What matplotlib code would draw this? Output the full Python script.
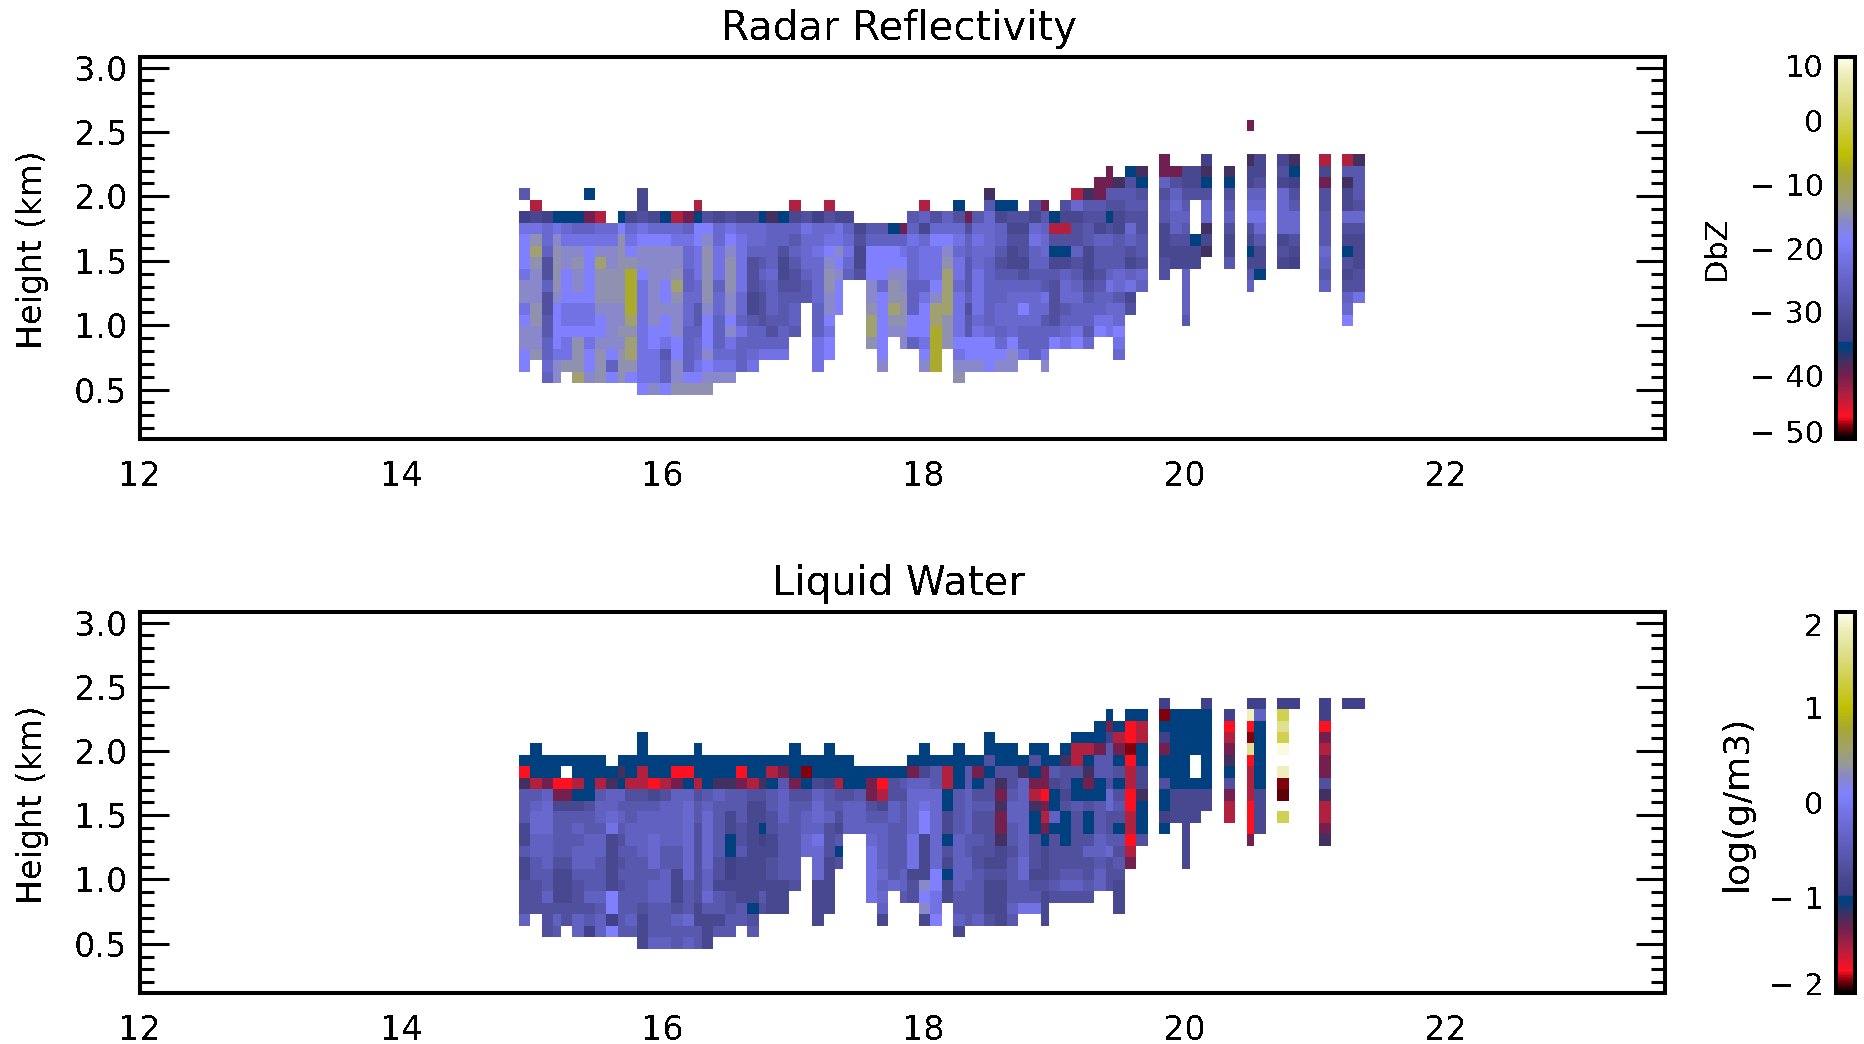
import numpy as np
import matplotlib
matplotlib.use("Agg")
import matplotlib.pyplot as plt
from matplotlib.colors import LinearSegmentedColormap
from matplotlib.ticker import AutoMinorLocator

# time (hours) and height (km) cell edges of the radar curtain
time_edges = [14.906, 14.990, 15.082, 15.166, 15.227, 15.312, 15.403, 15.488, 15.572, 15.664,
              15.717, 15.809, 15.894, 15.985, 16.070, 16.162, 16.246, 16.307, 16.391, 16.483,
              16.567, 16.652, 16.743, 16.797, 16.889, 16.973, 17.065, 17.149, 17.241, 17.325,
              17.387, 17.471, 17.563, 17.647, 17.731, 17.823, 17.877, 17.969, 18.053, 18.145,
              18.229, 18.321, 18.374, 18.466, 18.551, 18.642, 18.727, 18.811, 18.903, 18.964,
              19.048, 19.133, 19.224, 19.309, 19.400, 19.454, 19.546, 19.630, 19.722, 19.806,
              19.890, 19.982, 20.044, 20.128, 20.212, 20.304, 20.388, 20.480, 20.534, 20.626,
              20.710, 20.802, 20.886, 21.031, 21.123, 21.208, 21.292, 21.384]
height_edges = [2.592, 2.507, 2.414, 2.328, 2.235, 2.150, 2.064, 1.971, 1.886, 1.793, 1.707, 1.614,
                1.529, 1.436, 1.350, 1.257, 1.171, 1.078, 0.993, 0.908, 0.814, 0.729, 0.636, 0.550, 0.457]

# one string per time column, top cell first; each letter is a level
reflectivity_cols = [
    "......G.DJKKKJLLJKLLKK", ".......CEJOQOLLLOOLLO", "........DIIHFFHFFGGHHIH", "........NJLOOOOLKKKKJLL",
    "........NIJLLKKKJJKJJO", "........NHJLOLLKJJKOOOQ", "......N.MHJKKKKKJJKJKKL", "........CIJLQOOOLKKLOOO",
    ".........IJLLOOOLLLLKHK", "........NKOOOOOOLLOLOOO", "........EIJKOSSSSQOQQOK", "......EEFJKLLKJJJJJJJJJK",
    "........EIKLLLLLLLKKJJJL", "........NIKLLLKKLKKJGHHK", "........CIJLLOQOLLLKKLLO", "........MHJIIHHIIIHHHHKO",
    ".......CNKKJJJIIGGHIIJKO", "........FKLOOOOOLKKKLKLO", "........EIIJJJHIIHHHIJL", "........FJKLOOOLLKLJIJL",
    "........EIJJJJJIIHJHHH", "........EIIHFFFEEGHHIJ", "........NIIHGHGFFFHHJ", "........PHHHHIHHHGFHJ",
    "........NHHFEEFGGGHHJ", ".......CEHGHGFFGHHG", "........FJIIIHGG", "........DIIJIIIIHHHJJJ",
    ".......CFIJKLOOLLKJKK", "........EJJLKLKKK", "........EHIJIH", ".........EFEEF",
    ".........GHKKKLLOQQO", ".........GHKKKIKKKKKKL", ".........NHKKLOOQOL", ".........MHJKLLOOOLL",
    "........GHJIIIHHHKKH", ".......CHEIJJJHJKKKJKL", "........FIKJJJKLQQSSSS", "........HIKLOQQQQOOO",
    ".......NFIJIJJIJJJJKJLO", "........MFHHGGGHFGGKKL", "........GIJIIJJJJIJKKL", "......PGIIIIHHHHHHIKKK",
    ".......NEHHGFGHHIIHIKL", ".......NFEFEEGHIIIIKLL", "........FEFFEFHIKIHHJ", ".......FEIJHHGHIIIHHH",
    ".......MGHIIHGGJIGHHJL", "........NCFNEGFFFFHK", ".......FECFNEHIIGHIJ", "......CIEFFHFGHIHHJK",
    "......PGFGGEEEFGHHGI", ".....MMGFEHGGFGHHJK", "....MMGFNFHGGHJHIJJ", ".....PGFEEGGGIIGIIKJI",
    "....NFGGFIHFEHJEF", "....PNFGFFGGFIH", "", "...MMHFGGEEEFF",
    "....MFHIHHFEE", "....EEFGHGFEEHHHHG", "....EEF...NEE", "...DPNFIIPEP",
    "", "....PNFGHFEEG", "", "M..PEEHIJFENEGH",
    "...EEFHIJIGEEN", "", "...EFEIIIIEFE", "...PNDFGIIFED",
    "", "...CEMFFGGGIHGH", "", "...CGPEEIFENFEFHIK",
    "...PGGGFIFEEEFFJ",
]
liquid_cols = [
    ".......NRPGGGEEGEEFFFH", "......NNNCGHIIHHGGFFF", ".......NNMHIIIHHHGGHFFF", ".......NNRMEGGGGFEEEFHG",
    ".......N.RMEGGGGFEEEFF", ".......NNCNEGHGHHGFFFHH", ".......NNNNFGGHHHGGHFGD", ".......NNCGHHGHHGGGHGHH",
    "........NPHHIJEEEEEKKDK", ".......NPNHGHGFGFGFGGGG", ".......NNCFGGHHGGGGGGHG", ".....NNNCCFGHHHHGGGGFEEE",
    ".......NNREGHHIIIGHHGGGH", ".......NNCFHHHHGGHHHGGGH", ".......NRMHHHHHGGEEEFHGG", ".......NRNHIIIIIIIGGGIGH",
    "......NNNCFGGFFFFFFFEEGG", ".......NNNGHIIIIIHHIGEEE", ".......NNPHGGGGGFFEGGEG", ".......NNPGGEENNDDEFFGG",
    ".......NRMGGGFFGEEEEGG", ".......NNCFEEEEEEEEENFG", ".......NNPFEENDEEEEGF", ".......NCNGGFFEEFFEEE",
    ".......NMGHHHGGGGGEEE", "......NNNMFGGGGGGGF", ".......NZNFGHHII", ".......NNEHIIHJIIIEEEE",
    "......NNNDGGHFFFEEEEE", ".......NNCFGFEGNF", ".......NNNFHHH", "........NNGHHH",
    "........NMMFGHIJJJJJ", "........NRCEGHHHHIHIHE", "........NFFHHGGGGGI", "........NGFGGGGGGHHG",
    ".......NMHIIIIJJJEFF", "......NNEHIJKKEEEELKLE", ".......NGGIIIIIIIKKJJK", ".......NCCNNEENFENEE",
    "......NNNNGGGGHHHHHGGHE", ".......NGGHHHHGGHHGGGG", ".......NMNFGFFGFFGGGGH", ".....NNFNFFGFFFFEFEEEF",
    "......NNFPMPMMPEEFEEEE", "......NNFFGHHGGFGGGGHG", ".......NPHHHHHHHIIGGJ", "......NFNMCPNNFFFEFGJ",
    "......NNMMRMCMNEEEFEEE", ".......NGENNHNFFFFGF", "......NPFFEFNNNFFGHF", ".....NCCFNNGFFFFFGHF",
    ".....NCNPMNFNNFHFFGF", "....NNMGGNNGGGHHGHH", "...NMDGGGFIIFFGIFFF", "....NCMNFNFGFNGFGFEEE",
    "...NRRZRCCRRCCRCM", "...NCCNNEEPNNNF", "", "..DZNDMNNFNNDN",
    "...NNNNNNNEEE", "...NNNNNNNEEEEEEE", "...NNNN..NEEE", "..DNNNNNNNEE",
    "", "...DRCMPNFMCC", "", "..DVRZURCCCRRRM",
    "..DHNNNNNNEEEE", "", "..DTUTW.VZX.T", "..D",
    "", "..DDRMCMMFPCCMP", "", "..D",
    "..D",
]

# colour bar levels in DbZ and in log(g/m3)
dbz_levels = {"X": -48.5, "Z": -47.9, "R": -46.4, "C": -43.1, "M": -39.9, "P": -37.7, "N": -35.6, "D": -34.3,
              "E": -32.0, "F": -30.2, "G": -28.4, "H": -26.0, "I": -24.0, "J": -21.8, "K": -18.8, "L": -15.8,
              "O": -14.9, "Q": -11.9, "S": -8.0, "T": -0.2, "U": 4.0, "V": 7.6, "W": 9.1}
log_levels = {"X": -1.90, "Z": -1.86, "R": -1.76, "C": -1.54, "M": -1.33, "P": -1.18, "N": -1.04, "D": -0.95,
              "E": -0.80, "F": -0.68, "G": -0.56, "H": -0.40, "I": -0.27, "J": -0.12, "K": 0.08, "L": 0.28,
              "O": 0.34, "Q": 0.54, "S": 0.80, "T": 1.32, "U": 1.60, "V": 1.84, "W": 1.94}

x_ticks = [12, 14, 16, 18, 20, 22]
y_ticks = [0.5, 1.0, 1.5, 2.0, 2.5, 3.0]
dbz_ticks = [8.6, 0, -10, -20, -30, -40, -48.9]
dbz_labels = ["10", "0", "\u2212 10", "\u2212 20", "\u2212 30", "\u2212 40", "\u2212 50"]
log_ticks = [1.87, 1, 0, -1, -1.9]
log_labels = ["2", "1", "0", "\u2212 1", "\u2212 2"]

stops = [(0, "#000000"), (0.013, "#300000"), (0.035, "#900010"), (0.057, "#ff1020"), (0.115, "#b02040"),
         (0.168, "#702050"), (0.205, "#403060"), (0.24, "#004080"), (0.252, "#004080"), (0.256, "#404088"),
         (0.30, "#484890"), (0.362, "#5858b0"), (0.433, "#6868d0"), (0.521, "#8080ff"), (0.57, "#8888c8"),
         (0.60, "#989898"), (0.636, "#a0a070"), (0.698, "#a8a830"), (0.751, "#c0c000"), (0.83, "#d0d050"),
         (0.90, "#e0e090"), (0.963, "#f0f0c0"), (1, "#fffff0")]
cmap = LinearSegmentedColormap.from_list("idl_radar", stops, N=256)
cmap.set_bad("white")

plt.rcParams["font.family"] = "DejaVu Sans"
plt.rcParams["text.antialiased"] = False

W, H = 1864, 1044
fig = plt.figure(figsize=(W / 100, H / 100), dpi=100)
FS = 24
LW = 2.9


def grid_from(cols, levels):
    grid = np.full((len(height_edges) - 1, len(cols)), np.nan)
    for j, col in enumerate(cols):
        for i, ch in enumerate(col):
            if ch != ".":
                grid[i, j] = levels[ch]
    return grid


def px_axes(left, top, right, bottom):
    return fig.add_axes([left / W, 1 - bottom / H, (right - left) / W, (bottom - top) / H])


def panel(top, bottom, cols, levels, vmin, vmax, title, ticks, labels, bar_label, bar_label_x, bar_label_size):
    ax = px_axes(140, top, 1665, bottom)
    mesh = ax.pcolormesh(time_edges, height_edges, grid_from(cols, levels), cmap=cmap, vmin=vmin, vmax=vmax)
    ax.set_xlim(12, 23.68)
    ax.set_ylim(0.116, 3.082)
    ax.set_xticks(x_ticks)
    ax.set_yticks(y_ticks)
    ax.set_yticklabels(["%.1f" % v for v in y_ticks])
    ax.yaxis.set_minor_locator(AutoMinorLocator(5))
    ax.tick_params(axis="x", length=0, pad=15, labelsize=FS)
    ax.tick_params(axis="y", which="major", direction="in", left=True, right=True, length=21, width=2.2, pad=9, labelsize=FS)
    ax.tick_params(axis="y", which="minor", direction="in", left=True, right=True, length=10, width=2.2)
    for s in ax.spines.values():
        s.set_linewidth(LW)
    ax.set_title(title, fontsize=29, pad=12, x=0.4975)
    ax.set_ylabel("Height (km)", fontsize=FS)
    ax.yaxis.set_label_coords(-0.0595, 0.495)

    cax = px_axes(1836, top, 1855, bottom)
    cb = fig.colorbar(mesh, cax=cax)
    cb.outline.set_linewidth(LW)
    cb.set_ticks(ticks)
    cb.set_ticklabels(labels)
    cax.yaxis.set_ticks_position("left")
    cax.tick_params(length=0, pad=9, labelsize=22)
    cax.minorticks_off()
    fig.text(bar_label_x / W, 1 - (top + bottom) / 2 / H, bar_label, rotation=90, fontsize=bar_label_size, ha="center", va="center")


panel(57, 439, reflectivity_cols, dbz_levels, -50, 10, "Radar Reflectivity", dbz_ticks, dbz_labels, "DbZ", 1716, 22)
panel(612, 993, liquid_cols, log_levels, -2, 2, "Liquid Water", log_ticks, log_labels, "log(g/m3)", 1737, 26)

fig.savefig("out.png", dpi=100, facecolor="white")
plt.close()
